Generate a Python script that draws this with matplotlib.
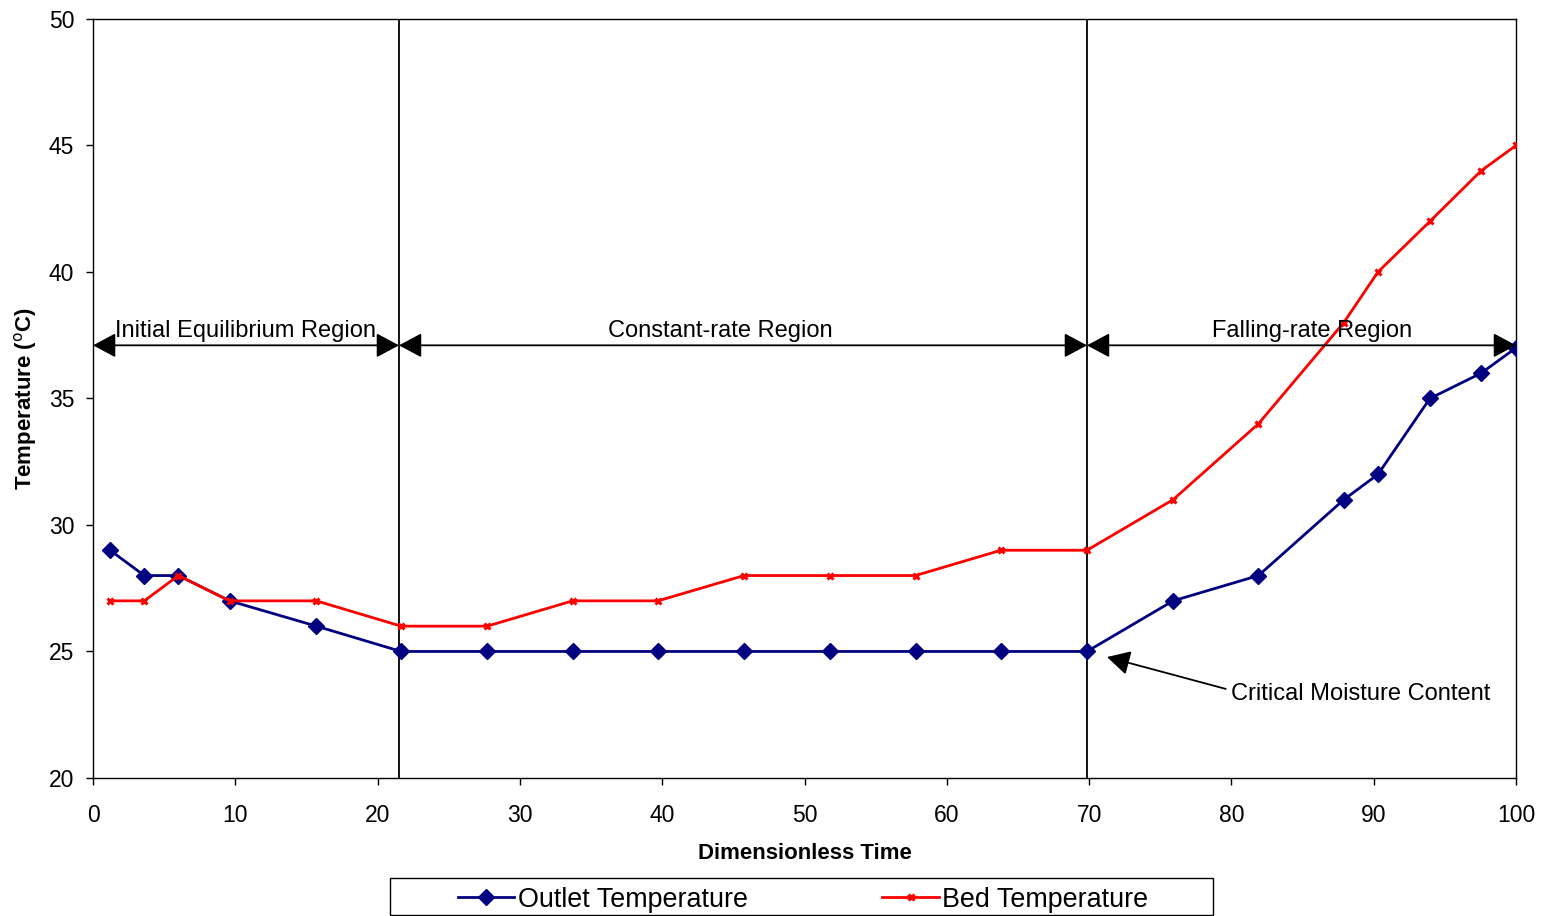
import matplotlib
matplotlib.use("Agg")
import matplotlib.pyplot as plt
from matplotlib.patches import Rectangle

plt.rcParams['font.family'] = ['Liberation Sans', 'DejaVu Sans']

# Dimensionless time of each sample
time = [1.2, 3.6, 6.0, 9.6, 15.7, 21.65, 27.7, 33.7, 39.7, 45.75, 51.8, 57.8,
        63.8, 69.85, 75.9, 81.9, 87.9, 90.3, 93.95, 97.55, 100.0]
outlet_temp = [29, 28, 28, 27, 26, 25, 25, 25, 25, 25, 25, 25,
               25, 25, 27, 28, 31, 32, 35, 36, 37]
bed_temp = [27, 27, 28, 27, 27, 26, 26, 27, 27, 28, 28, 28,
            29, 29, 31, 34, 38, 40, 42, 44, 45]

# Region boundaries and labels
boundaries = [0, 21.5, 69.85, 100]
region_labels = ["Initial Equilibrium Region", "Constant-rate Region", "Falling-rate Region"]
label_x = [10.7, 44.1, 85.7]
critical_label = "Critical Moisture Content"

fig = plt.figure(figsize=(15.43, 9.16), dpi=100)
ax = fig.add_axes([0.0603, 0.1507, 0.9222, 0.8286])

ax.plot(time, outlet_temp, color='#000080', lw=2, marker='D', ms=8,
        label='Outlet Temperature', zorder=3)
ax.plot(time, bed_temp, color='#ff0000', lw=2, marker='x', ms=5, mew=2.2,
        label='Bed Temperature', zorder=3)

ax.set_xlim(0, 100)
ax.set_ylim(20, 50)
ax.set_xticks(range(0, 101, 10))
ax.set_yticks(range(20, 51, 5))
ax.tick_params(direction='out', length=5, width=1, labelsize=16.5, colors='black')
ax.tick_params(axis='x', pad=13.5)
ax.tick_params(axis='y', pad=8.5)
for s in ax.spines.values():
    s.set_linewidth(1)
    s.set_color('black')

ax.set_xlabel('Dimensionless Time', fontsize=16, fontweight='bold', labelpad=12)
ax.set_ylabel('Temperature ($^{\\mathrm{o}}$C)', fontsize=16, fontweight='bold', labelpad=7)

# Region separators
for b in boundaries[1:3]:
    ax.axvline(b, color='black', lw=1.3, zorder=2)

# Double-headed region arrows and labels
arrow_y = 37.1
head = 'head_length=1.4,head_width=0.75'
for i, lab in enumerate(region_labels):
    ax.annotate('', xy=(boundaries[i], arrow_y), xytext=(boundaries[i + 1], arrow_y),
                arrowprops=dict(arrowstyle='<|-|>,' + head,
                                mutation_scale=10, color='black', lw=1.3,
                                shrinkA=0, shrinkB=0),
                annotation_clip=False, zorder=4)
    ax.text(label_x[i], arrow_y + 0.12, lab, ha='center', va='bottom', fontsize=17)

# Critical moisture content pointer
ax.annotate('', xy=(71.26, 24.78), xytext=(79.6, 23.52),
            arrowprops=dict(arrowstyle='-|>,' + head,
                            mutation_scale=10, color='black', lw=1.3,
                            shrinkA=0, shrinkB=0), zorder=4)
ax.text(79.97, 23.08, critical_label, ha='left', va='baseline', fontsize=17)

# Legend with a square box around it
leg = fig.legend(loc='center', bbox_to_anchor=(0.5205, 0.018), ncol=2, fontsize=19.4,
                 frameon=False, columnspacing=5.0, handlelength=2.1, handletextpad=0.12)
fig.patches.append(Rectangle((390 / 1543, 1 - 915 / 916), 823 / 1543, 37 / 916,
                             transform=fig.transFigure, fill=False,
                             edgecolor='black', lw=1))

fig.savefig('out.png', dpi=100)
